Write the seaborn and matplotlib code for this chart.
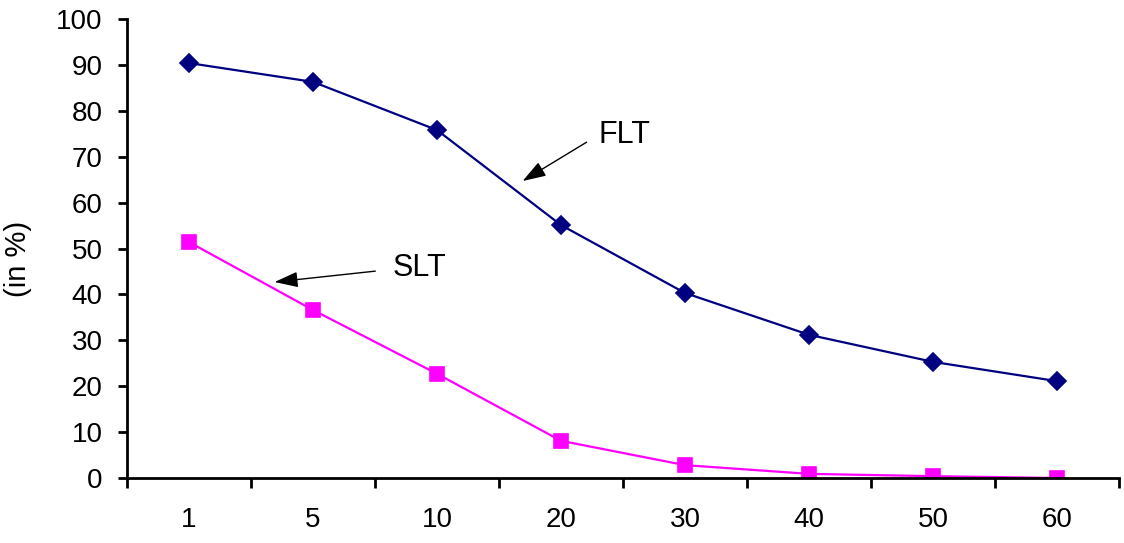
import matplotlib
matplotlib.use("Agg")
import matplotlib.pyplot as plt
import seaborn as sns
import pandas as pd
import numpy as np

categories = ["1", "5", "10", "20", "30", "40", "50", "60"]
flt = [90.4, 86.3, 75.8, 55.1, 40.3, 31.2, 25.3, 21.1]
slt = [51.4, 36.6, 22.7, 8.1, 2.8, 0.9, 0.4, 0.0]
y_ticks = list(range(0, 101, 10))

sns.set_style("white")
plt.rcParams["font.family"] = ["Liberation Sans", "DejaVu Sans"]
plt.rcParams["text.color"] = "black"
plt.rcParams["xtick.color"] = "black"
plt.rcParams["ytick.color"] = "black"
plt.rcParams["axes.labelcolor"] = "black"

df = pd.DataFrame({
    "cat": categories * 2,
    "value": flt + slt,
    "series": ["FLT"] * len(categories) + ["SLT"] * len(categories),
})

fig = plt.figure(figsize=(11.24, 5.43), dpi=100)
ax = fig.add_axes([0.113, 0.1197, 0.8826, 0.8453])

sns.pointplot(data=df, x="cat", y="value", hue="series", order=categories,
              hue_order=["FLT", "SLT"], palette={"FLT": "#000080", "SLT": "#FF00FF"},
              markers=["D", "s"], linestyles=["-", "-"], errorbar=None,
              markersize=9, linewidth=1.6, legend=False, ax=ax)

for line in ax.lines:
    if line.get_marker() == "s":
        line.set_markersize(10.5)

ax.set_xlim(-0.5, len(categories) - 0.5)
ax.set_ylim(0, 100)
ax.set_yticks(y_ticks)
ax.set_yticklabels([str(v) for v in y_ticks])

# Excel-style: tick marks between categories, labels at centers
ax.set_xticks(np.arange(-0.5, len(categories) + 0.5, 1.0))
ax.set_xticklabels([])
ax.set_xticks(np.arange(len(categories)), minor=True)
ax.set_xticklabels(categories, minor=True)
ax.tick_params(axis="x", which="major", bottom=True, direction="out", length=7, width=2,
               color="black")
ax.tick_params(axis="x", which="minor", bottom=True, length=0, pad=21, labelsize=20,
               labelcolor="black")
ax.tick_params(axis="y", which="major", left=True, direction="out", length=6.5, width=2,
               color="black", pad=11, labelsize=20, labelcolor="black")

for s in ["top", "right"]:
    ax.spines[s].set_visible(False)
for s in ["left", "bottom"]:
    ax.spines[s].set_linewidth(2)
    ax.spines[s].set_color("black")

ax.set_xlabel("")
ax.set_ylabel("(in %)", fontsize=21, color="black")
ax.yaxis.set_label_coords(-0.096, 0.477)

arrow = "-|>,head_length=0.6,head_width=0.2"
ax.annotate("FLT", xy=(2.69, 64.7), xytext=(3.3, 74.7), fontsize=22,
            va="center", ha="left", color="black",
            arrowprops=dict(arrowstyle=arrow, color="black", lw=1.0,
                            relpos=(0, 0.5), shrinkA=7, shrinkB=0,
                            mutation_scale=24))
ax.annotate("SLT", xy=(0.69, 42.7), xytext=(1.64, 45.8), fontsize=22,
            va="center", ha="left", color="black",
            arrowprops=dict(arrowstyle=arrow, color="black", lw=1.0,
                            relpos=(0, 0.45), shrinkA=10, shrinkB=0,
                            mutation_scale=24))

fig.savefig("out.png", dpi=100)
